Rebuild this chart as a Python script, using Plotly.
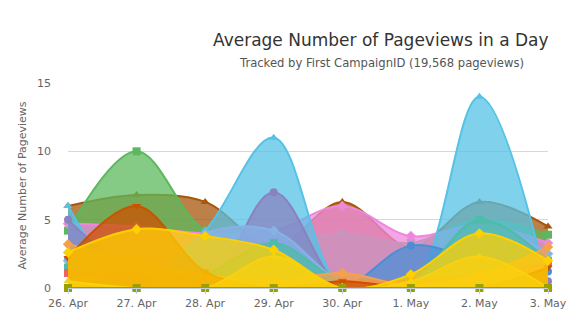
import plotly.graph_objects as go

days = ["26. Apr", "27. Apr", "28. Apr", "29. Apr", "30. Apr", "1. May", "2. May", "3. May"]

brown = [6.0, 6.8, 6.3, 3.0, 6.3, 3.0, 6.3, 4.5]
green = [4.2, 10.0, 4.2, 3.3, 4.0, 3.3, 5.0, 3.9]
pink = [4.7, 4.5, 4.0, 4.2, 6.0, 3.8, 4.6, 3.3]
cyan = [6.0, 0.0, 4.2, 11.0, 0.0, 0.0, 14.0, 0.0]
blue = [2.1, 1.0, 0.5, 0.5, 0.0, 3.1, 2.0, 1.2]
purple = [5.0, 1.0, 0.0, 7.0, 0.0, 0.0, 1.0, 0.5]
light_blue = [2.0, 0.0, 4.0, 4.2, 0.5, 0.5, 4.6, 2.5]
teal = [1.5, 0.0, 1.0, 3.3, 0.5, 0.5, 5.0, 2.0]
salmon = [1.1, 1.0, 0.5, 0.0, 0.5, 0.5, 1.0, 1.8]
orange = [3.2, 2.0, 1.0, 0.5, 1.1, 0.2, 1.0, 3.0]
dark_orange = [2.2, 6.0, 1.2, 0.0, 0.5, 0.0, 0.0, 1.5]
khaki = [0.5, 0.0, 0.0, 2.3, 0.0, 0.5, 2.3, 0.0]
gold = [2.6, 4.3, 3.8, 2.8, 0.0, 1.0, 4.0, 2.0]
olive = [0, 0, 0, 0, 0, 0, 0, 0]

series = [
    (brown, "#A8560C", "triangle-up"),
    (green, "#5CB85C", "square"),
    (pink, "#EE88DD", "diamond"),
    (cyan, "#56C2E6", "triangle-up"),
    (blue, "#4A8FD6", "circle"),
    (purple, "#8A82C0", "circle"),
    (light_blue, "#86B2E6", "diamond"),
    (teal, "#4FBBAA", "square"),
    (salmon, "#F06262", "square"),
    (orange, "#F4A24A", "diamond"),
    (dark_orange, "#CC5200", "triangle-down"),
    (khaki, "#E6D33A", "triangle-up"),
    (gold, "#FFD000", "diamond"),
    (olive, "#9AA000", "square"),
]

def rgba(h, a):
    h = h.lstrip("#")
    r, g, b = int(h[0:2], 16), int(h[2:4], 16), int(h[4:6], 16)
    return f"rgba({r},{g},{b},{a})"

fig = go.Figure()
for vals, col, sym in series:
    fig.add_trace(go.Scatter(
        x=days, y=vals, mode="lines+markers",
        line=dict(shape="spline", color=col, width=2),
        fill="tozeroy", fillcolor=rgba(col, 0.75),
        marker=dict(symbol=sym, size=8, color=col),
        cliponaxis=False, showlegend=False,
    ))

fig.update_layout(
    width=579, height=335,
    margin=dict(l=68, r=26, t=83, b=47),
    paper_bgcolor="white", plot_bgcolor="white",
    font=dict(family="DejaVu Sans", color="#666666", size=11),
    xaxis=dict(
        type="category", range=[0, 7], showgrid=False,
        showline=True, linecolor="#C0D0E0", linewidth=1,
        ticks="outside", ticklen=5, tickcolor="#C0D0E0",
        tickfont=dict(size=11, color="#666666"),
    ),
    yaxis=dict(
        range=[0, 15], tickvals=[0, 5, 10, 15], showgrid=True,
        gridcolor="#D8D8D8", zeroline=False, showline=False,
        tickfont=dict(size=11, color="#666666"), ticks="",
        ticklabelstandoff=16,
        title=dict(text="Average Number of Pageviews", font=dict(size=11, color="#666666"), standoff=8),
    ),
    annotations=[
        dict(text="Average Number of Pageviews in a Day", x=384, y=40, xref="paper", yref="paper",
             showarrow=False, font=dict(size=17, color="#333333")),
        dict(text="Tracked by First CampaignID (19,568 pageviews)", x=385, y=63, xref="paper", yref="paper",
             showarrow=False, font=dict(size=11.6, color="#555555")),
    ],
)

plot_w = 579 - 68 - 26
plot_h = 335 - 83 - 47
for ann in fig.layout.annotations:
    px, py = ann.x, ann.y
    ann.x = (px - 68) / plot_w
    ann.y = (335 - 47 - py) / plot_h
    ann.xanchor = "center"
    ann.yanchor = "middle"

fig.write_html("out.html")
